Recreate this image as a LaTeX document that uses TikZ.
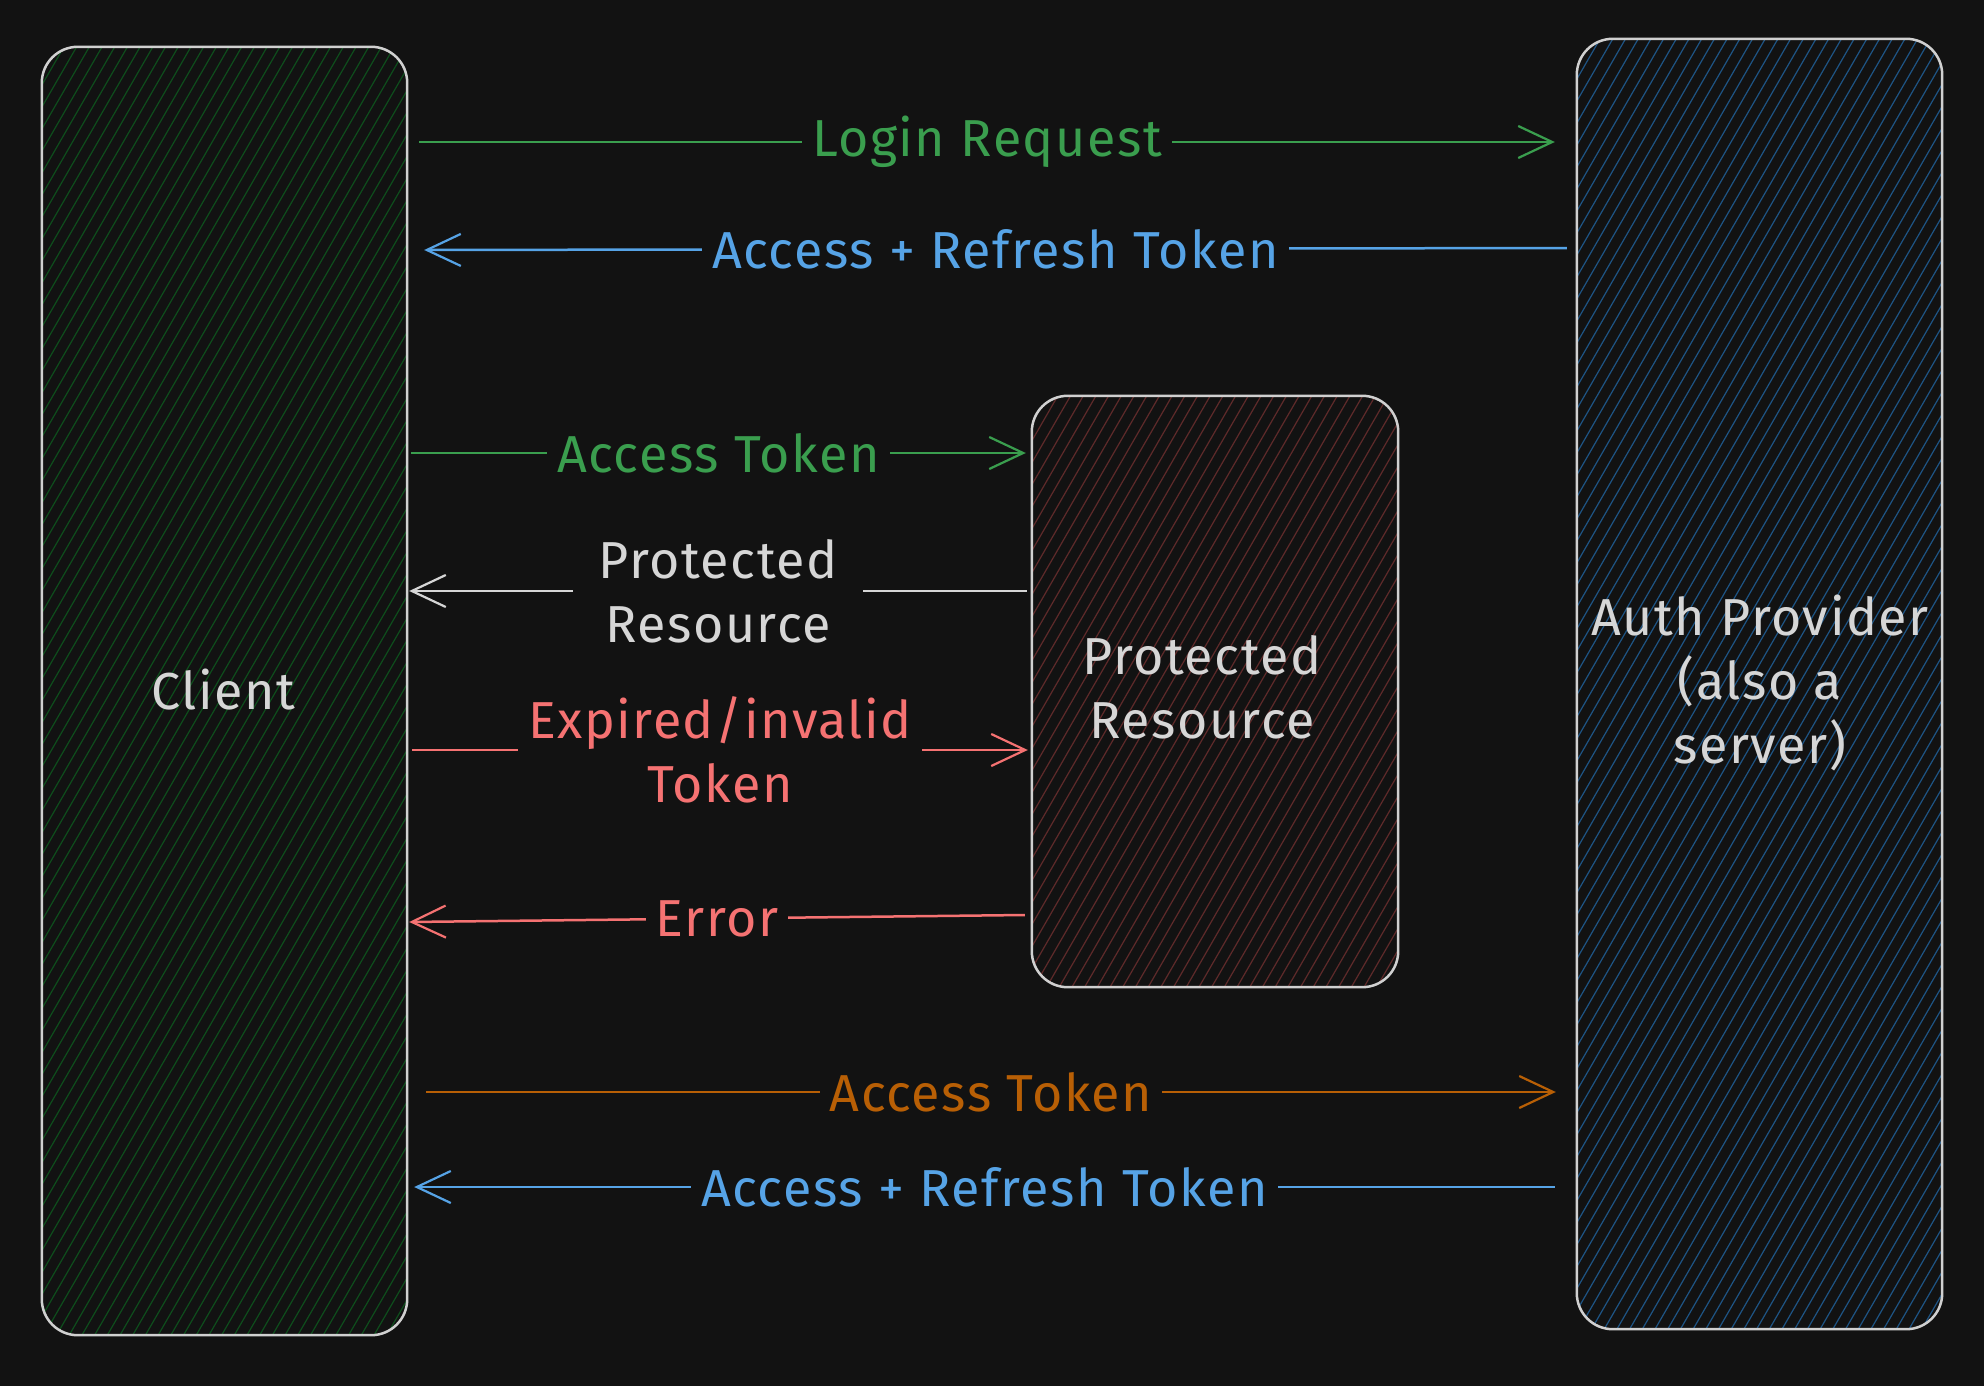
\documentclass[tikz,border=0pt]{standalone}
\usepackage{fontspec}
\setmainfont{Fira Sans}
\usetikzlibrary{arrows.meta,calc}
\definecolor{bg}{HTML}{121212}
\definecolor{outl}{HTML}{D0D0D0}
\definecolor{txtw}{HTML}{D6D6D6}
\definecolor{cgreen}{HTML}{3A9E4E}
\definecolor{cblue}{HTML}{56A3E6}
\definecolor{cred}{HTML}{F57272}
\definecolor{corange}{HTML}{B85F05}
\definecolor{hgreen}{HTML}{0E4D1C}
\definecolor{hred}{HTML}{5E2A2A}
\definecolor{hblue}{HTML}{1E5484}
\newcommand\bigfont{\fontsize{52}{64}\selectfont\addfontfeature{LetterSpace=3}}
\tikzset{
  box/.style={inner sep=0pt},
  outline/.style={draw=outl, line width=2.5pt, rounded corners=36pt},
  boxtxt/.style={text=txtw, align=center, font=\bigfont},
  hatch/.style={line width=1.2pt},
  arr/.style={line width=2.5pt, -{Straight Barb[length=34pt,width=32pt,line width=2.2pt]}},
  lbl/.style={fill=bg, inner xsep=10pt, inner ysep=4pt, align=center, font=\bigfont},
}
\newcommand\hatchnode[3]{% node, colour, count
  \begin{scope}
    \clip[rounded corners=36pt] (#1.south west) rectangle (#1.north east);
    \foreach \s in {0,...,#3}
      \draw[hatch, #2] ($(#1.south west)+(-760+12.7*\s,0)$) -- ++(760,-1316);
  \end{scope}
  \draw[outline] (#1.south west) rectangle (#1.north east);}
\begin{document}
\begin{tikzpicture}[x=1pt,y=-1pt]
\fill[bg] (0,0) rectangle (1984,1386);
\useasboundingbox (0,0) rectangle (1984,1386);

\node[box, minimum width=365pt, minimum height=1288pt] (client) at (224.5,691) {};
\node[box, minimum width=365pt, minimum height=1290pt] (auth) at (1759.5,684) {};
\node[box, minimum width=366pt, minimum height=591pt] (res) at (1215,691.5) {};
\hatchnode{client}{hgreen}{90}
\hatchnode{auth}{hblue}{90}
\hatchnode{res}{hred}{90}

\node[boxtxt] (clientlbl) at (223,690) {Client};
\node[boxtxt] (authlbl) at (1760,683) {Auth Provider\\(also a\\server)};
\node[boxtxt] (reslbl) at (1202,687) {Protected\\Resource};

% 1 Login Request
\draw[arr, cgreen] ([xshift=12pt]client.east |- 0,142) -- ([xshift=-22pt]auth.west |- 0,142)
  node[lbl, midway, text=cgreen] (l1) {Login Request};
% 2 Access + Refresh Token
\draw[arr, cblue] ([xshift=-10pt]auth.west |- 0,248) -- ([xshift=17pt]client.east |- 0,250)
  node[lbl, midway, text=cblue] (l2) {Access + Refresh Token};
% 3 Access Token
\draw[arr, cgreen] ([xshift=4pt]client.east |- 0,453) -- ([xshift=-6pt]res.west |- 0,453)
  node[lbl, midway, text=cgreen] (l3) {Access Token};
% 4 Protected Resource
\draw[arr, txtw] ([xshift=-5pt]res.west |- 0,591) -- ([xshift=2pt]client.east |- 0,591)
  node[lbl, midway, text=txtw, minimum width=290pt] (l4) {Protected\\Resource};
% 5 Expired/invalid Token
\draw[arr, cred] ([xshift=5pt]client.east |- 0,750) -- ([xshift=-4pt]res.west |- 0,750)
  node[lbl, midway, text=cred, minimum width=366pt] (l5) {Expired/invalid\\Token};
% 6 Error
\draw[arr, cred] ([xshift=-7pt]res.west |- 0,915) -- ([xshift=2pt]client.east |- 0,922)
  node[lbl, midway, text=cred] (l6) {Error};
% 7 Access Token (orange)
\draw[arr, corange] ([xshift=19pt]client.east |- 0,1092) -- ([xshift=-21pt]auth.west |- 0,1092)
  node[lbl, midway, text=corange] (l7) {Access Token};
% 8 Access + Refresh Token
\draw[arr, cblue] ([xshift=-22pt]auth.west |- 0,1187) -- ([xshift=7pt]client.east |- 0,1187)
  node[lbl, midway, text=cblue] (l8) {Access + Refresh Token};
\end{tikzpicture}
\end{document}
